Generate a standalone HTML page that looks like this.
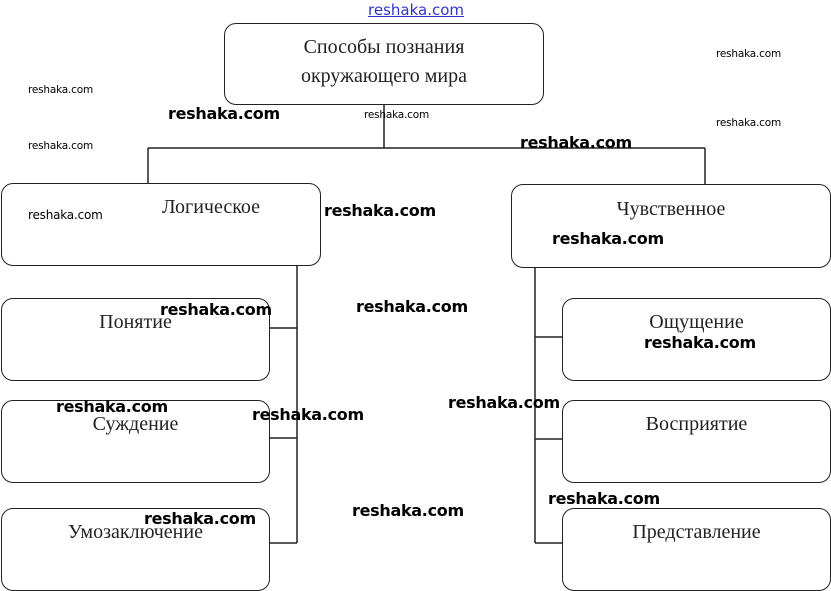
<!DOCTYPE html>
<html><head><meta charset="utf-8"><style>
html,body{margin:0;padding:0;background:#fff;}
body{width:831px;height:591px;position:relative;overflow:hidden;}
.b{position:absolute;box-sizing:border-box;border:1.5px solid #222;border-radius:12px;background:#fff;}
.t{position:absolute;left:0;right:0;text-align:center;font-family:"Liberation Serif",serif;font-size:20px;color:#222;}
.w{position:absolute;font-family:"DejaVu Sans","Liberation Sans",sans-serif;color:#000;white-space:nowrap;}
.wb{font-size:16px;font-weight:bold;letter-spacing:-0.3px;}
.ws{font-size:10.5px;letter-spacing:-0.2px;}
svg{position:absolute;left:0;top:0;}
</style></head><body>
<svg width="831" height="591">
<g stroke="#222" stroke-width="1.5" fill="none">
<line x1="384" y1="104" x2="384" y2="148"/>
<line x1="148" y1="148" x2="705" y2="148"/>
<line x1="148" y1="148" x2="148" y2="184"/>
<line x1="705" y1="148" x2="705" y2="185"/>
<line x1="297" y1="265" x2="297" y2="543"/>
<line x1="269" y1="328" x2="297" y2="328"/>
<line x1="269" y1="438" x2="297" y2="438"/>
<line x1="269" y1="543" x2="297" y2="543"/>
<line x1="535" y1="267" x2="535" y2="543"/>
<line x1="535" y1="337" x2="562" y2="337"/>
<line x1="535" y1="439" x2="562" y2="439"/>
<line x1="535" y1="543" x2="562" y2="543"/>
</g></svg>

<div class="b" style="left:224px;top:23px;width:320px;height:82px;"><div class="t" style="top:9px;line-height:29px;">Способы познания<br>окружающего мира</div></div>
<div class="b" style="left:1px;top:183px;width:320px;height:83px;"><div class="t" style="top:12px;left:100px;">Логическое</div></div>
<div class="b" style="left:511px;top:184px;width:320px;height:84px;"><div class="t" style="top:13px;">Чувственное</div></div>

<div class="b" style="left:1px;top:298px;width:269px;height:83px;"><div class="t" style="top:12px;">Понятие</div></div>
<div class="b" style="left:1px;top:400px;width:269px;height:83px;"><div class="t" style="top:12px;">Суждение</div></div>
<div class="b" style="left:1px;top:508px;width:269px;height:83px;"><div class="t" style="top:12px;">Умозаключение</div></div>

<div class="b" style="left:562px;top:298px;width:269px;height:83px;"><div class="t" style="top:12px;">Ощущение</div></div>
<div class="b" style="left:562px;top:400px;width:269px;height:83px;"><div class="t" style="top:12px;">Восприятие</div></div>
<div class="b" style="left:562px;top:508px;width:269px;height:83px;"><div class="t" style="top:12px;">Представление</div></div>

<div class="w" style="left:368px;top:1px;font-size:15px;color:#3333cc;text-decoration:underline;">reshaka.com</div>
<div class="w ws" style="left:716px;top:48px;">reshaka.com</div>
<div class="w ws" style="left:716px;top:117px;">reshaka.com</div>
<div class="w ws" style="left:28px;top:84px;">reshaka.com</div>
<div class="w ws" style="left:28px;top:140px;">reshaka.com</div>
<div class="w ws" style="left:364px;top:109px;">reshaka.com</div>
<div class="w ws" style="left:28px;top:208px;font-size:12px;">reshaka.com</div>
<div class="w wb" style="left:168px;top:104px;">reshaka.com</div>
<div class="w wb" style="left:520px;top:133px;">reshaka.com</div>
<div class="w wb" style="left:324px;top:201px;">reshaka.com</div>
<div class="w wb" style="left:552px;top:229px;">reshaka.com</div>
<div class="w wb" style="left:160px;top:300px;">reshaka.com</div>
<div class="w wb" style="left:356px;top:297px;">reshaka.com</div>
<div class="w wb" style="left:644px;top:333px;">reshaka.com</div>
<div class="w wb" style="left:56px;top:397px;">reshaka.com</div>
<div class="w wb" style="left:252px;top:405px;">reshaka.com</div>
<div class="w wb" style="left:448px;top:393px;">reshaka.com</div>
<div class="w wb" style="left:548px;top:489px;">reshaka.com</div>
<div class="w wb" style="left:144px;top:509px;">reshaka.com</div>
<div class="w wb" style="left:352px;top:501px;">reshaka.com</div>
</body></html>
